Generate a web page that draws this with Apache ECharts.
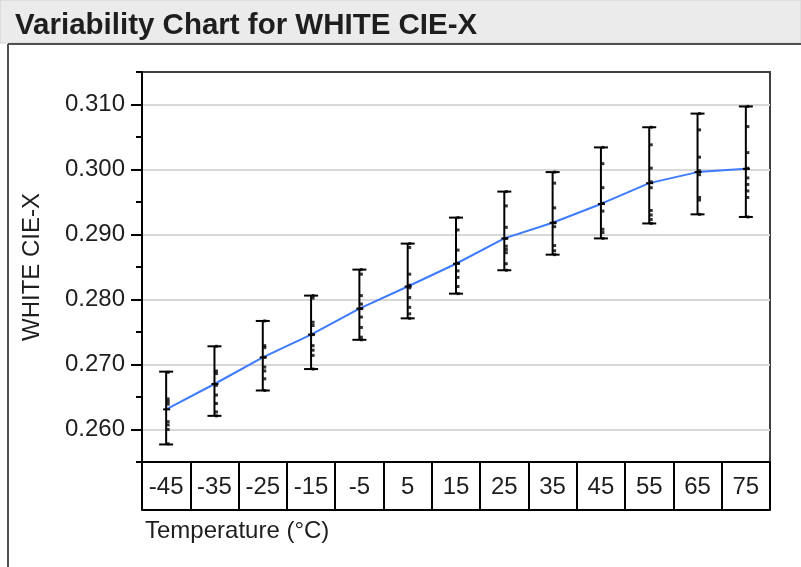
<!DOCTYPE html>
<html>
<head>
<meta charset="utf-8">
<script src="https://cdn.jsdelivr.net/npm/echarts@6/dist/echarts.min.js"></script>
<style>
  html, body { margin: 0; padding: 0; background: #fff; }
  #chart { width: 801px; height: 567px; }
</style>
</head>
<body>
<div id="chart"></div>
<script>
// temperature groups (x categories)
const temps = ['-45', '-35', '-25', '-15', '-5', '5', '15', '25', '35', '45', '55', '65', '75'];

// cell means (blue line)
const cellMeans = [0.2631, 0.2670, 0.2711, 0.2746, 0.2786, 0.2820, 0.2855, 0.2894, 0.2918, 0.2947, 0.2979, 0.2996, 0.3001];

// range bars (min / max per cell)
const rangeLow = [0.2577, 0.2621, 0.2660, 0.2693, 0.2738, 0.2771, 0.2809, 0.2845, 0.2869, 0.2894, 0.2917, 0.2931, 0.2927];
const rangeHigh = [0.2689, 0.2728, 0.2767, 0.2806, 0.2846, 0.2886, 0.2926, 0.2966, 0.2996, 0.3034, 0.3065, 0.3086, 0.3097];

// individual measurements per temperature
const obs = [
  [0.2688, 0.2647, 0.2643, 0.2639, 0.2612, 0.2607, 0.2600, 0.2578],
  [0.2728, 0.2690, 0.2686, 0.2668, 0.2653, 0.2640, 0.2627, 0.2621],
  [0.2767, 0.2729, 0.2726, 0.2711, 0.2696, 0.2690, 0.2678, 0.2660],
  [0.2806, 0.2802, 0.2765, 0.2760, 0.2746, 0.2729, 0.2722, 0.2714, 0.2693],
  [0.2846, 0.2839, 0.2806, 0.2793, 0.2786, 0.2773, 0.2757, 0.2742, 0.2738],
  [0.2886, 0.2880, 0.2839, 0.2822, 0.2818, 0.2803, 0.2788, 0.2778, 0.2771],
  [0.2926, 0.2907, 0.2876, 0.2856, 0.2844, 0.2834, 0.2820, 0.2809],
  [0.2966, 0.2944, 0.2911, 0.2894, 0.2882, 0.2877, 0.2872, 0.2855, 0.2845],
  [0.2996, 0.2979, 0.2941, 0.2918, 0.2912, 0.2883, 0.2875, 0.2869],
  [0.3034, 0.3009, 0.2972, 0.2948, 0.2936, 0.2908, 0.2903, 0.2894],
  [0.3065, 0.3038, 0.3002, 0.2981, 0.2972, 0.2937, 0.2930, 0.2923, 0.2917],
  [0.3086, 0.3061, 0.3019, 0.2998, 0.2992, 0.2957, 0.2953, 0.2931],
  [0.3097, 0.3066, 0.3026, 0.3002, 0.2987, 0.2977, 0.2967, 0.2957, 0.2927]
];

// y range and labelled ticks
const yMin = 0.255, yMax = 0.315;
const labelMin = 0.26, labelMax = 0.31;

const FONT = "'Liberation Sans', Arial, sans-serif";
const textColor = '#1e1e1e';

const chart = echarts.init(document.getElementById('chart'));

const rangeData = temps.map((t, i) => [i, rangeLow[i], rangeHigh[i], cellMeans[i]]);
const pointData = [];
obs.forEach((vals, i) => vals.forEach(v => pointData.push([i, v])));

// range bar with caps and a short mean tick
const renderRange = (params, api) => {
  const x = api.value(0);
  const lo = api.coord([x, api.value(1)]);
  const hi = api.coord([x, api.value(2)]);
  const mid = api.coord([x, api.value(3)]);
  const cap = 7;
  const style = {stroke: '#000', lineWidth: 2};
  return {
    type: 'group',
    children: [
      {type: 'line', shape: {x1: lo[0], y1: lo[1], x2: hi[0], y2: hi[1]}, style},
      {type: 'line', shape: {x1: hi[0] - cap, y1: hi[1], x2: hi[0] + cap, y2: hi[1]}, style},
      {type: 'line', shape: {x1: lo[0] - cap, y1: lo[1], x2: lo[0] + cap, y2: lo[1]}, style},
      {type: 'line', shape: {x1: mid[0] - 3, y1: mid[1], x2: mid[0] + 4, y2: mid[1]}, style}
    ]
  };
};

const option = {
  animation: false,
  title: {
    text: 'Variability Chart for WHITE CIE-X',
    left: 10,
    top: 6,
    textStyle: {fontFamily: FONT, fontSize: 29.5, fontWeight: 'bold', color: textColor}
  },
  graphic: [
    {type: 'rect', z: -10, shape: {x: 0, y: 0, width: 801, height: 43}, style: {fill: '#ebebeb', stroke: '#d2d2d2', lineWidth: 1}},
    {type: 'line', shape: {x1: 8, y1: 44, x2: 801, y2: 44}, style: {stroke: '#505050', lineWidth: 2}},
    {type: 'line', shape: {x1: 8, y1: 44, x2: 8, y2: 567}, style: {stroke: '#505050', lineWidth: 2}},
    {
      type: 'text', left: 145, top: 519,
      style: {text: 'Temperature (°C)', font: '24px ' + FONT, fill: textColor}
    }
  ],
  grid: [
    {left: 142, top: 72, width: 628, height: 390, show: true, borderColor: '#404040', borderWidth: 2},
    {left: 142, top: 104.5, width: 628, height: 325}
  ],
  xAxis: [
    {
      type: 'category', gridIndex: 0, data: temps, boundaryGap: true,
      axisLine: {lineStyle: {color: '#000', width: 2}},
      axisTick: {show: true, interval: 0, length: 48, lineStyle: {color: '#000', width: 2}},
      axisLabel: {interval: 0, margin: 13, fontFamily: FONT, fontSize: 24, color: textColor},
      splitLine: {show: false}
    },
    {
      type: 'category', gridIndex: 0, data: temps, position: 'bottom', offset: 48,
      axisLine: {lineStyle: {color: '#000', width: 2}},
      axisTick: {show: false}, axisLabel: {show: false}
    },
    {type: 'category', gridIndex: 1, data: temps, show: false}
  ],
  yAxis: [
    {
      type: 'value', gridIndex: 0, min: yMin, max: yMax, interval: 0.005,
      axisLine: {show: true, lineStyle: {color: '#000', width: 2}},
      axisTick: {show: true, length: 6, lineStyle: {color: '#000', width: 2}},
      axisLabel: {show: false},
      splitLine: {show: false}
    },
    {
      type: 'value', gridIndex: 1, min: labelMin, max: labelMax, interval: 0.01,
      name: 'WHITE CIE-X', nameLocation: 'middle', nameGap: 98,
      nameTextStyle: {fontFamily: FONT, fontSize: 24, color: textColor},
      axisLine: {show: false},
      axisTick: {show: true, length: 11, lineStyle: {color: '#000', width: 2}},
      axisLabel: {margin: 17, fontFamily: FONT, fontSize: 24, color: textColor, formatter: v => v.toFixed(3)},
      splitLine: {show: true, lineStyle: {color: '#d8d8d8', width: 2}}
    }
  ],
  series: [
    {
      name: 'Mean', type: 'line', xAxisIndex: 0, yAxisIndex: 0,
      data: cellMeans, showSymbol: false, smooth: false,
      lineStyle: {color: '#3f7bff', width: 2}, z: 2
    },
    {
      name: 'Range', type: 'custom', xAxisIndex: 0, yAxisIndex: 0,
      data: rangeData, renderItem: renderRange, z: 3
    },
    {
      name: 'Points', type: 'scatter', xAxisIndex: 0, yAxisIndex: 0,
      data: pointData, symbol: 'rect', symbolSize: 3, symbolOffset: [2, 0],
      itemStyle: {color: '#000'}, z: 4
    }
  ]
};

chart.setOption(option);
</script>
</body>
</html>
